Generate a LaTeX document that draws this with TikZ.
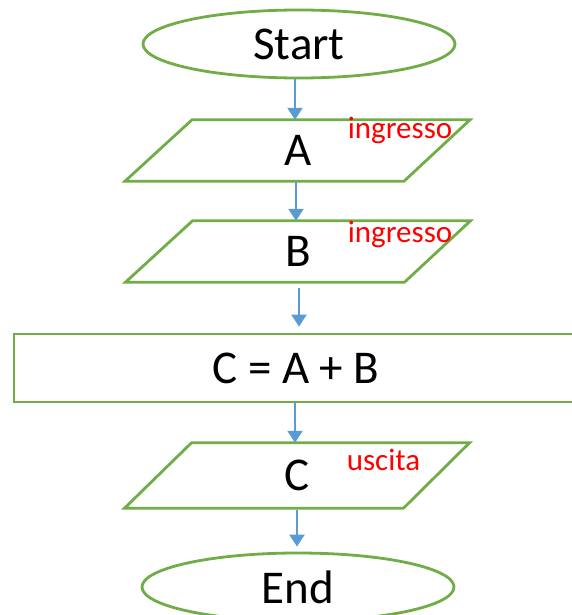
\documentclass[tikz,border=0pt]{standalone}
\usepackage{fontspec}
\setmainfont{Carlito}
\usetikzlibrary{shapes.geometric,arrows.meta}

\definecolor{boxgreen}{HTML}{70AD47}
\definecolor{flowblue}{HTML}{5B9BD5}

\tikzset{
  terminal/.style={ellipse, draw=boxgreen, line width=2.8pt, inner sep=0pt,
    minimum width=312pt, minimum height=68pt, font=\fontsize{47}{52}\selectfont},
  iotext/.style={rectangle, inner sep=0pt, minimum width=277pt,
    font=\fontsize{47}{52}\selectfont},
  ioframe/.style={draw=boxgreen, line width=2.8pt, line join=miter},
  process/.style={rectangle, draw=boxgreen, line width=2.8pt, inner sep=0pt,
    minimum width=564pt, minimum height=68pt, font=\fontsize{47}{52}\selectfont},
  flow/.style={draw=flowblue, line width=2pt,
    -{Triangle[width=15pt,length=12pt]}},
  note/.style={text=red, inner sep=0pt, anchor=base,
    font=\fontsize{31}{34}\selectfont},
}

\begin{document}
\begin{tikzpicture}[x=1pt, y=-1pt]
  \useasboundingbox (0,0) rectangle (572,615);
  \clip (0,0) rectangle (572,615);

  % terminals and process box
  \node[terminal] (start) at (299,44) {Start};
  \node[process]  (calc)  at (296,368) {C = A + B};
  \node[terminal] (stop)  at (298,587) {End};

  % input / output boxes: text nodes with a parallelogram frame
  \node[iotext, minimum height=61pt] (inA) at (298,150.5) {A};
  \node[iotext, minimum height=61pt] (inB) at (298.5,251.5) {B};
  \node[iotext, minimum height=65pt] (outC) at (297.5,475.5) {C};

  \foreach \n in {inA,inB,outC}{
    \draw[ioframe] ([xshift=-106pt]\n.north) -- ([xshift=172pt]\n.north)
      -- ([xshift=106pt]\n.south) -- ([xshift=-173pt]\n.south) -- cycle;
  }

  % labels
  \node[note] (lblA) at (400,139) {ingresso};
  \node[note] (lblB) at (400,242) {ingresso};
  \node[note] (lblC) at (383.5,470) {uscita};

  % columns of the connectors
  \coordinate (x1) at (295,0);
  \coordinate (x2) at (296,0);
  \coordinate (x3) at (299,0);
  \coordinate (x4) at (295,0);
  \coordinate (x5) at (297,0);

  % connectors
  \draw[flow] (start.south -| x1) -- (inA.north -| x1);
  \draw[flow] (inA.south -| x2) -- (inB.north -| x2);
  \draw[flow, shorten <=6pt, shorten >=6pt] (inB.south -| x3) -- (calc.north -| x3);
  \draw[flow] (calc.south -| x4) -- (outC.north -| x4);
  \draw[flow, shorten <=2pt, shorten >=5pt] (outC.south -| x5) -- (stop.north -| x5);
\end{tikzpicture}
\end{document}
